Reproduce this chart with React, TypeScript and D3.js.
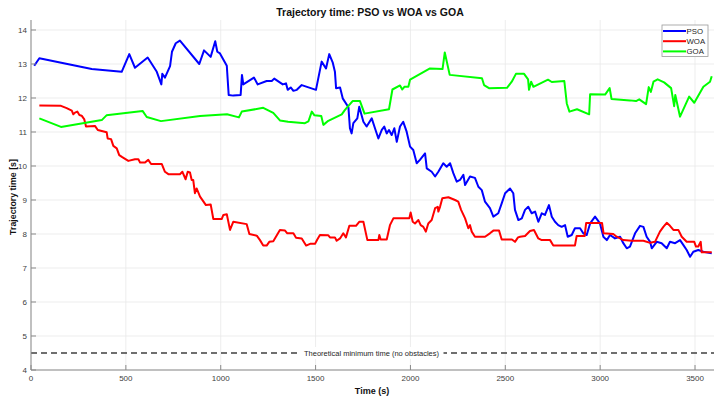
import React from "react";
import * as d3 from "d3";

const xTicks = [0, 500, 1000, 1500, 2000, 2500, 3000, 3500];
const yTicks = [4, 5, 6, 7, 8, 9, 10, 11, 12, 13, 14];
const theoreticalMin = 4.5;
const seriesNames = ["PSO", "WOA", "GOA"];
const seriesColors = ["#0000ff", "#ff0000", "#00ff00"];

const psoT = [17, 44, 320, 478, 518, 548, 615, 663, 687, 692, 706, 733, 743, 763, 785, 887, 912, 947, 971, 982, 996, 1032, 1042, 1066, 1105, 1112, 1119, 1175, 1195, 1242, 1269, 1282, 1327, 1344, 1353, 1369, 1383, 1401, 1427, 1502, 1532, 1555, 1572, 1590, 1602, 1608, 1629, 1643, 1673, 1681, 1690, 1699, 1720, 1730, 1752, 1769, 1796, 1813, 1831, 1849, 1862, 1875, 1887, 1901, 1915, 1928, 1945, 1962, 1980, 1998, 2015, 2033, 2050, 2077, 2086, 2112, 2130, 2147, 2173, 2191, 2209, 2226, 2244, 2261, 2279, 2288, 2314, 2340, 2358, 2376, 2393, 2419, 2437, 2463, 2481, 2499, 2525, 2542, 2551, 2569, 2587, 2604, 2621, 2639, 2657, 2674, 2692, 2709, 2730, 2745, 2762, 2779, 2797, 2815, 2829, 2850, 2867, 2894, 2911, 2929, 2947, 2973, 2999, 3017, 3035, 3052, 3078, 3105, 3122, 3140, 3157, 3184, 3210, 3228, 3245, 3263, 3272, 3298, 3324, 3351, 3368, 3395, 3421, 3438, 3456, 3474, 3491, 3517, 3544, 3588];
const psoV = [12.95, 13.17, 12.85, 12.77, 13.29, 12.89, 13.19, 12.77, 12.4, 12.71, 12.6, 12.94, 13.36, 13.61, 13.69, 13.0, 13.4, 13.21, 13.67, 13.36, 13.31, 12.95, 12.09, 12.07, 12.09, 12.68, 12.4, 12.6, 12.4, 12.5, 12.5, 12.57, 12.4, 12.43, 12.24, 12.31, 12.21, 12.24, 12.38, 12.24, 13.07, 12.87, 13.29, 13.05, 12.77, 12.29, 12.31, 11.99, 11.73, 11.11, 10.96, 11.26, 11.4, 11.74, 11.3, 11.16, 11.4, 11.11, 10.81, 11.06, 11.16, 10.96, 11.06, 10.91, 11.11, 10.71, 11.16, 11.3, 11.01, 10.57, 10.47, 10.08, 10.18, 10.37, 9.93, 9.83, 9.69, 9.83, 10.08, 9.98, 10.08, 9.79, 9.54, 9.59, 9.74, 9.44, 9.69, 9.65, 9.39, 9.29, 8.95, 8.76, 8.51, 8.61, 8.9, 9.2, 9.34, 9.2, 8.71, 8.41, 8.46, 8.71, 8.8, 8.61, 8.66, 8.36, 8.61, 8.56, 8.85, 8.51, 8.36, 8.26, 8.21, 8.26, 7.92, 7.97, 8.17, 8.17, 8.02, 7.97, 8.31, 8.51, 8.31, 7.92, 7.82, 7.97, 7.87, 7.92, 7.73, 7.58, 7.63, 8.02, 8.24, 8.21, 7.92, 7.77, 7.58, 7.77, 7.73, 7.58, 7.77, 7.73, 7.82, 7.68, 7.53, 7.33, 7.48, 7.53, 7.48, 7.43];

const woaT = [44, 158, 188, 215, 223, 232, 244, 255, 267, 281, 290, 337, 352, 399, 404, 422, 434, 452, 465, 481, 513, 548, 566, 575, 601, 618, 633, 689, 706, 724, 785, 798, 815, 826, 838, 847, 855, 864, 873, 891, 922, 947, 961, 1005, 1014, 1032, 1049, 1066, 1137, 1151, 1190, 1207, 1224, 1242, 1256, 1277, 1312, 1339, 1351, 1383, 1397, 1427, 1450, 1471, 1497, 1509, 1523, 1567, 1576, 1602, 1611, 1629, 1646, 1660, 1678, 1713, 1730, 1752, 1773, 1831, 1836, 1843, 1875, 1892, 1910, 1994, 2001, 2012, 2024, 2042, 2054, 2068, 2081, 2094, 2112, 2130, 2144, 2147, 2156, 2168, 2200, 2235, 2252, 2267, 2288, 2305, 2314, 2323, 2340, 2393, 2419, 2437, 2467, 2481, 2535, 2551, 2567, 2578, 2604, 2630, 2651, 2674, 2692, 2736, 2753, 2867, 2876, 2918, 2926, 3010, 3018, 3069, 3087, 3105, 3122, 3166, 3228, 3263, 3289, 3315, 3333, 3351, 3368, 3386, 3412, 3430, 3456, 3496, 3505, 3517, 3530, 3535, 3588];
const woaV = [11.78, 11.77, 11.7, 11.63, 11.52, 11.57, 11.6, 11.5, 11.48, 11.37, 11.16, 11.18, 11.06, 10.99, 10.81, 10.79, 10.59, 10.52, 10.32, 10.26, 10.15, 10.2, 10.2, 10.1, 10.1, 10.18, 10.06, 10.06, 9.83, 9.76, 9.76, 9.83, 9.61, 9.83, 9.81, 9.59, 9.59, 9.2, 9.34, 9.1, 8.85, 8.87, 8.44, 8.44, 8.56, 8.58, 8.12, 8.36, 8.29, 8.0, 7.95, 7.82, 7.66, 7.66, 7.77, 7.79, 8.12, 8.1, 8.02, 8.02, 7.89, 7.87, 7.66, 7.71, 7.71, 7.84, 7.97, 7.96, 7.9, 7.9, 7.8, 7.87, 8.02, 7.9, 8.24, 8.24, 8.36, 8.36, 7.82, 7.82, 7.97, 7.84, 7.84, 8.26, 8.46, 8.46, 8.63, 8.36, 8.31, 8.41, 8.26, 8.21, 8.07, 8.31, 8.41, 8.76, 8.8, 8.66, 8.8, 9.05, 9.08, 9.0, 8.95, 8.71, 8.46, 8.17, 8.26, 8.07, 7.92, 7.92, 8.02, 8.1, 8.1, 7.84, 7.84, 7.77, 7.9, 7.92, 7.94, 8.09, 8.12, 7.87, 7.82, 7.82, 7.66, 7.66, 7.94, 7.94, 8.32, 8.32, 8.02, 8.0, 7.92, 7.87, 7.82, 7.8, 7.8, 7.74, 7.77, 8.07, 8.21, 8.33, 8.24, 8.12, 8.12, 7.92, 7.77, 7.77, 7.63, 7.63, 7.77, 7.46, 7.46];

const goaT = [44, 158, 373, 398, 588, 610, 685, 891, 1033, 1096, 1111, 1224, 1277, 1312, 1355, 1444, 1462, 1480, 1494, 1530, 1541, 1567, 1638, 1655, 1695, 1734, 1758, 1887, 1905, 1945, 1957, 1968, 1989, 1998, 2103, 2169, 2181, 2207, 2377, 2388, 2414, 2509, 2534, 2556, 2599, 2620, 2625, 2636, 2648, 2725, 2745, 2811, 2824, 2838, 2878, 2942, 2947, 3026, 3050, 3060, 3157, 3189, 3206, 3242, 3256, 3267, 3281, 3303, 3337, 3374, 3390, 3396, 3421, 3469, 3496, 3544, 3579, 3588];
const goaV = [11.4, 11.15, 11.35, 11.49, 11.62, 11.44, 11.32, 11.47, 11.52, 11.43, 11.6, 11.71, 11.56, 11.34, 11.3, 11.26, 11.31, 11.6, 11.49, 11.47, 11.21, 11.33, 11.52, 11.65, 11.91, 11.91, 11.54, 11.67, 12.25, 12.37, 12.25, 12.33, 12.33, 12.54, 12.87, 12.85, 13.34, 12.68, 12.58, 12.38, 12.29, 12.3, 12.48, 12.71, 12.71, 12.55, 12.24, 12.48, 12.33, 12.54, 12.47, 12.5, 11.84, 11.6, 11.67, 11.52, 12.11, 12.1, 12.29, 11.97, 11.93, 11.91, 11.96, 11.82, 12.32, 12.18, 12.48, 12.55, 12.46, 12.29, 11.76, 12.09, 11.45, 12.04, 11.86, 12.33, 12.48, 12.64];

const W = 723;
const H = 400;
const left = 31;
const right = 714;
const top = 20;
const bottom = 370;
const FONT = "'Liberation Sans', Arial, Helvetica, sans-serif";

export default function App() {
  const x = d3.scaleLinear().domain([0, 3600]).range([left, right]);
  const y = d3.scaleLinear().domain([4, 14.2941]).range([bottom, top]);
  const line = d3
    .line<[number, number]>()
    .x((d) => x(d[0]))
    .y((d) => y(d[1]));
  const series = [
    psoT.map((t, i) => [t, psoV[i]] as [number, number]),
    woaT.map((t, i) => [t, woaV[i]] as [number, number]),
    goaT.map((t, i) => [t, goaV[i]] as [number, number]),
  ];
  const yMin = y(theoreticalMin);
  const labelX = (left + right) / 2 - 1;

  return (
    <svg
      width={W}
      height={H}
      style={{ position: "absolute", left: 0, top: 0, background: "#fff" }}
      fontFamily={FONT}
    >
      <rect x={0} y={0} width={W} height={H} fill="#fff" />
      {/* grid */}
      {xTicks.map((t) => (
        <line key={"gx" + t} x1={x(t)} x2={x(t)} y1={top} y2={bottom} stroke="#e8e8e8" strokeWidth={0.8} />
      ))}
      {yTicks.map((t) => (
        <line key={"gy" + t} x1={left} x2={right} y1={y(t)} y2={y(t)} stroke="#e8e8e8" strokeWidth={0.8} />
      ))}
      {/* series */}
      {series.map((s, i) => (
        <path
          key={seriesNames[i]}
          d={line(s) || ""}
          fill="none"
          stroke={seriesColors[i]}
          strokeWidth={2}
          strokeLinejoin="round"
        />
      ))}
      {/* theoretical min */}
      <line x1={left} x2={right} y1={yMin} y2={yMin} stroke="#404040" strokeWidth={1.5} strokeDasharray="6,4" />
      <rect x={labelX - 72} y={yMin - 6} width={144} height={12} fill="#fff" />
      <text x={labelX} y={yMin + 2.7} textAnchor="middle" fontSize={7.5} fill="#262626">
        Theoretical minimum time (no obstacles)
      </text>
      {/* axes */}
      <line x1={left} x2={right} y1={bottom} y2={bottom} stroke="#8a8a8a" strokeWidth={1} />
      <line x1={left} x2={left} y1={top} y2={bottom} stroke="#8a8a8a" strokeWidth={1} />
      {xTicks.map((t) => (
        <g key={"xt" + t}>
          <line x1={x(t)} x2={x(t)} y1={bottom} y2={bottom - 5} stroke="#8a8a8a" strokeWidth={1} />
          <text x={x(t)} y={bottom + 11} textAnchor="middle" fontSize={8} fill="#404040">
            {t}
          </text>
        </g>
      ))}
      {yTicks.map((t) => (
        <g key={"yt" + t}>
          <line x1={left} x2={left + 5} y1={y(t)} y2={y(t)} stroke="#8a8a8a" strokeWidth={1} />
          <text x={left - 4} y={y(t) + 3} textAnchor="end" fontSize={8} fill="#404040">
            {t}
          </text>
        </g>
      ))}
      {/* labels */}
      <text x={370} y={16} textAnchor="middle" fontSize={10.5} fontWeight="bold" fill="#111">
        Trajectory time: PSO vs WOA vs GOA
      </text>
      <text x={372} y={394} textAnchor="middle" fontSize={9} fontWeight="bold" fill="#111">
        Time (s)
      </text>
      <text
        transform={`translate(15.5, ${(top + bottom) / 2 + 2}) rotate(-90)`}
        textAnchor="middle"
        fontSize={8.8}
        fontWeight="bold"
        fill="#111"
      >
        Trajectory time [s]
      </text>
      {/* legend */}
      <rect x={662} y={25} width={46} height={31.5} fill="#fff" stroke="#9a9a9a" strokeWidth={0.8} />
      {seriesNames.map((n, i) => (
        <g key={"lg" + n}>
          <line x1={663} x2={686} y1={31 + i * 10.2} y2={31 + i * 10.2} stroke={seriesColors[i]} strokeWidth={2} />
          <text x={686.5} y={31 + i * 10.2 + 2.8} fontSize={7.8} fill="#262626">
            {n}
          </text>
        </g>
      ))}
    </svg>
  );
}
